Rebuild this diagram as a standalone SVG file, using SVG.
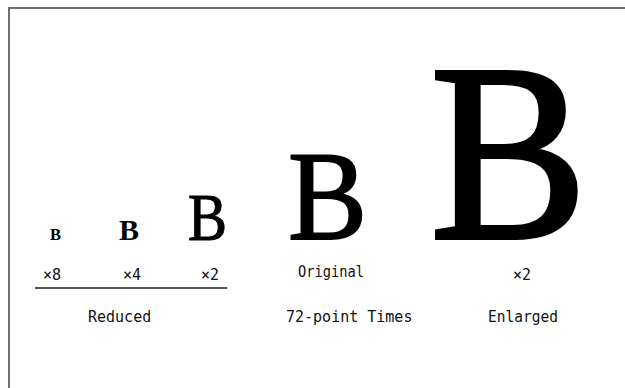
<svg xmlns="http://www.w3.org/2000/svg" width="625" height="388" viewBox="0 0 625 388">
<style>
.glyph{font-family:"Liberation Serif","Times New Roman",serif;fill:#000;font-size:100px}
.heavy{stroke:#000;stroke-width:1.5;stroke-linejoin:miter}
.bold{font-weight:bold}
.lbl{font-family:"DejaVu Sans Mono","Liberation Mono",monospace;font-size:15px;fill:#111}
</style>
<rect width="625" height="388" fill="#fff"/>
<g id="frame" stroke="#707070" stroke-width="2" fill="none">
<line x1="9" y1="8" x2="625" y2="8"/>
<line x1="9" y1="7" x2="9" y2="388"/>
</g>
<g id="reduced-x8">
<text class="glyph bold" style="font-size:16.6px" x="50" y="240">B</text>
<text class="lbl" x="43" y="280">×8</text>
</g>
<g id="reduced-x4">
<text class="glyph bold" style="font-size:30px" x="119" y="240">B</text>
<text class="lbl" x="123" y="280">×4</text>
</g>
<g id="reduced-x2">
<text class="glyph heavy" transform="translate(188,239.5) scale(0.585,0.667)">B</text>
<text class="lbl" x="201" y="280">×2</text>
</g>
<g id="reduced-label">
<line x1="35" y1="288" x2="227" y2="288" stroke="#555" stroke-width="2"/>
<text class="lbl" x="88" y="322">Reduced</text>
</g>
<g id="original">
<text class="glyph heavy" transform="translate(288,239) scale(1.187,1.274)">B</text>
<text class="lbl" x="298" y="277" textLength="66" lengthAdjust="spacingAndGlyphs">Original</text>
<text class="lbl" x="286" y="322">72-point Times</text>
</g>
<g id="enlarged">
<text class="glyph heavy" transform="translate(430.1,238.1) scale(2.36,2.53)">B</text>
<text class="lbl" x="513" y="280">×2</text>
<text class="lbl" x="488" y="322" textLength="70" lengthAdjust="spacingAndGlyphs">Enlarged</text>
</g>
</svg>
